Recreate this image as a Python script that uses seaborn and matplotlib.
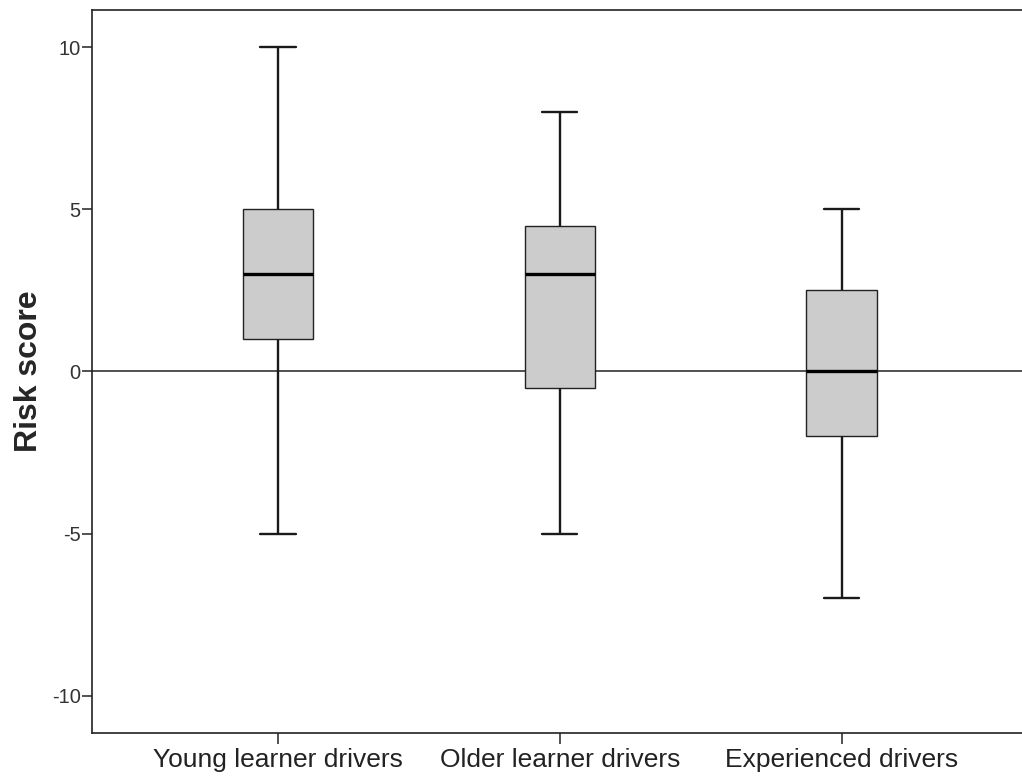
import numpy as np
import pandas as pd
import matplotlib
matplotlib.use("Agg")
import matplotlib.pyplot as plt
import seaborn as sns

# Group names (x tick labels)
groups = ["Young learner drivers", "Older learner drivers", "Experienced drivers"]
# Box statistics: lower whisker, Q1, median, Q3, upper whisker
whisker_low = [-5, -5, -7]
q1 = [1, -0.5, -2]
median = [3, 3, 0]
q3 = [5, 4.5, 2.5]
whisker_high = [10, 8, 5]
y_ticks = [-10, -5, 0, 5, 10]

# Five values per group reproduce these statistics exactly (linear quartiles, whiskers at min/max)
rows = []
for g, lo, a, m, b, hi in zip(groups, whisker_low, q1, median, q3, whisker_high):
    for v in (lo, a, m, b, hi):
        rows.append({"group": g, "score": v})
df = pd.DataFrame(rows)

sns.set_style("white")
plt.rcParams["font.family"] = ["Liberation Sans", "DejaVu Sans"]

fig = plt.figure(figsize=(10.22, 7.78), dpi=100)
ax = fig.add_axes([0.09, 0.058, 0.91, 0.929])

ax.axhline(0, color="#222222", lw=1.1, zorder=0)

sns.boxplot(data=df, x="group", y="score", order=groups, ax=ax,
            whis=(0, 100), width=0.25, color="#cccccc", saturation=1,
            linecolor="#222222", linewidth=1.0,
            boxprops=dict(facecolor="#cccccc", edgecolor="#222222", linewidth=1.0),
            whiskerprops=dict(color="#1a1a1a", linewidth=1.7),
            capprops=dict(color="#1a1a1a", linewidth=1.7),
            medianprops=dict(color="black", linewidth=2.4),
            showfliers=False)

ax.set_xlim(-0.66, 2.64)
ax.set_ylim(-11.15, 11.15)
ax.set_yticks(y_ticks)
ax.set_yticklabels([str(t) for t in y_ticks])
ax.set_xlabel("")
ax.set_ylabel("Risk score", fontsize=23, fontweight="bold", labelpad=6)

for s in ["left", "bottom", "top"]:
    ax.spines[s].set_visible(True)
    ax.spines[s].set_color("#222222")
    ax.spines[s].set_linewidth(1.2)
ax.spines["right"].set_visible(False)

ax.tick_params(axis="y", direction="out", length=7, width=1.1, colors="#222222",
               labelsize=14.5, labelcolor="#333333", pad=1, left=True)
ax.tick_params(axis="x", direction="out", length=8, width=1.1, colors="#222222",
               labelsize=19, labelcolor="#222222", pad=3, bottom=True)

fig.savefig("out.png", dpi=100)
